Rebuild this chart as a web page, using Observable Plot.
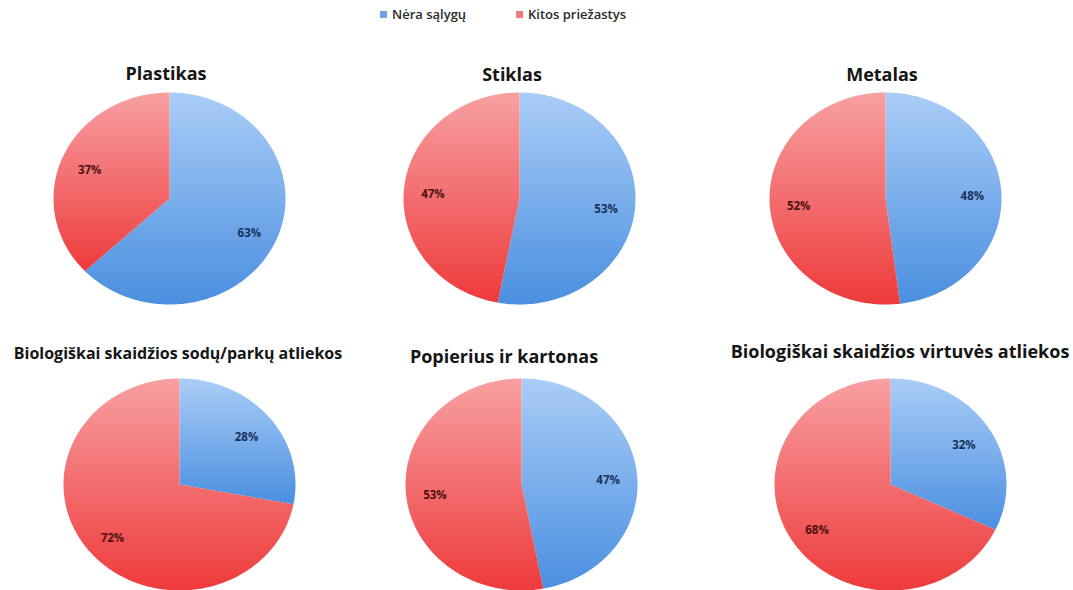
<!DOCTYPE html>
<html><head><meta charset="utf-8">
<script src="https://cdn.jsdelivr.net/npm/d3@7"></script>
<script src="https://cdn.jsdelivr.net/npm/@observablehq/plot@0.6"></script>
<style>
body{margin:0;background:#fff;}
#root{position:relative;width:1073px;height:590px;overflow:hidden;font-family:"Open Sans",Lato,sans-serif;background:#fff;}
.title{position:absolute;font-weight:700;color:#151515;white-space:nowrap;transform:translate(-50%,-50%);line-height:1;}
.chart{position:absolute;}
.legend{position:absolute;top:5px;left:0;width:1073px;height:18px;font-size:13px;font-weight:600;color:#2a2a2a;}
.legend span.item{position:absolute;white-space:nowrap;}
.legend i{display:inline-block;width:7px;height:7px;margin-right:5px;vertical-align:1px;}
</style></head><body><div id="root"></div>
<script>
const categories = ["Plastikas","Stiklas","Metalas","Biologiškai skaidžios sodų/parkų atliekos","Popierius ir kartonas","Biologiškai skaidžios virtuvės atliekos"];
const series = ["Nėra sąlygų","Kitos priežastys"];
const neraSalygu = [63,53,48,28,47,32];
const kitosPriezastys = [37,47,52,72,53,68];

const seriesColors = [
  {top:"#aacdf7", bottom:"#4a8fe0", label:"#1b3258", swatch:"#6ea4e6"},
  {top:"#f8a0a2", bottom:"#ee3a3b", label:"#4d1212", swatch:"#ee7a82"}
];

// layout: pie centers (px), title positions and sizes
const layout = [
  {cx:169, cy:198, tx:166, ty:73, fs:18},
  {cx:519, cy:198, tx:512, ty:74, fs:18},
  {cx:885, cy:198, tx:882, ty:74, fs:18},
  {cx:179, cy:484, tx:178, ty:353, fs:16},
  {cx:521, cy:484, tx:504, ty:356, fs:18},
  {cx:890, cy:484, tx:900, ty:351, fs:18}
];
const RX = 116, RY = 106, M = 4;

const root = document.getElementById("root");

// legend
const legend = document.createElement("div");
legend.className = "legend";
const legendX = [380, 516];
series.forEach((s, k) => {
  const it = document.createElement("span");
  it.className = "item";
  it.style.left = legendX[k] + "px";
  it.innerHTML = `<i style="background:${seriesColors[k].swatch}"></i>${s}`;
  legend.appendChild(it);
});
root.appendChild(legend);

function wedge(a0, a1) {
  const pts = [{x:0, y:0}];
  const n = Math.max(2, Math.ceil((a1 - a0) / (Math.PI / 180)));
  for (let j = 0; j <= n; j++) {
    const a = a0 + (a1 - a0) * j / n;
    pts.push({x: Math.sin(a), y: Math.cos(a)});
  }
  pts.push({x:0, y:0});
  return pts;
}

categories.forEach((cat, i) => {
  const L = layout[i];
  const vals = [neraSalygu[i], kitosPriezastys[i]];
  const total = d3.sum(vals);
  let acc = 0;
  const wedges = [], labels = [];
  vals.forEach((v, k) => {
    const a0 = acc / total * 2 * Math.PI;
    acc += v;
    const a1 = acc / total * 2 * Math.PI;
    wedges.push(wedge(a0, a1));
    const am = (a0 + a1) / 2;
    labels.push({x: 0.75 * Math.sin(am), y: 0.75 * Math.cos(am) - 0.03, text: v + "%", color: seriesColors[k].label});
  });

  const plot = Plot.plot({
    width: 2 * RX + 2 * M,
    height: 2 * RY + 2 * M,
    margin: M,
    x: {domain: [-1, 1], axis: null},
    y: {domain: [-1, 1], axis: null},
    style: {background: "transparent", fontFamily: "'Open Sans', sans-serif", overflow: "visible"},
    marks: [
      Plot.line(wedges[0], {x: "x", y: "y", fill: `url(#gb${i})`, stroke: "none"}),
      Plot.line(wedges[1], {x: "x", y: "y", fill: `url(#gr${i})`, stroke: "none"}),
      Plot.text(labels, {x: "x", y: "y", text: "text", fill: "color", fontWeight: 700, fontSize: 11.5})
    ]
  });
  const svg = d3.select(plot);
  const defs = svg.insert("defs", ":first-child");
  [["gb", 0], ["gr", 1]].forEach(([p, k]) => {
    const g = defs.append("linearGradient").attr("id", p + i)
      .attr("x1", 0).attr("y1", 0).attr("x2", 0).attr("y2", 1);
    g.append("stop").attr("offset", "0%").attr("stop-color", seriesColors[k].top);
    g.append("stop").attr("offset", "100%").attr("stop-color", seriesColors[k].bottom);
  });
  plot.classList.add("chart");
  plot.style.left = (L.cx - RX - M) + "px";
  plot.style.top = (L.cy - RY - M) + "px";
  root.appendChild(plot);

  const t = document.createElement("div");
  t.className = "title";
  t.textContent = cat;
  t.style.left = L.tx + "px";
  t.style.top = L.ty + "px";
  t.style.fontSize = L.fs + "px";
  root.appendChild(t);
});
</script>
</body></html>
